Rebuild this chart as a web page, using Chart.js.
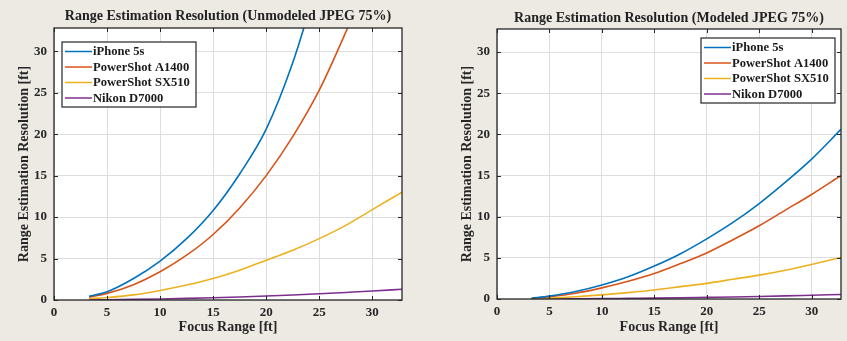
<!DOCTYPE html>
<html>
<head>
<meta charset="utf-8">
<script src="https://cdn.jsdelivr.net/npm/chart.js@4.4.1/dist/chart.umd.min.js"></script>
<style>
  body { margin: 0; background: #edeae4; width: 847px; height: 341px; overflow: hidden; }
  canvas { position: absolute; top: 0; }
  #left { left: 0; }
  #right { left: 423px; }
</style>
</head>
<body>
<canvas id="left" width="423" height="341"></canvas>
<canvas id="right" width="424" height="341"></canvas>
<script>
// focus range samples [ft]
const focusFt = [3.3, 5, 7.5, 10, 12.5, 15, 17.5, 20, 22.5, 25, 27.5, 30, 32.8];
const cameras = ["iPhone 5s", "PowerShot A1400", "PowerShot SX510", "Nikon D7000"];
const colors = ["#0072BD", "#D95319", "#EDB120", "#7E2F8E"];
const axisTicks = [0, 5, 10, 15, 20, 25, 30];
const axisMax = 32.8;

// range estimation resolution [ft], unmodeled JPEG 75%
const unmodIphone = [0.45, 1.0, 2.6, 4.7, 7.4, 10.8, 15.2, 20.6, 28.6, 39, null, null, null];
const unmodA1400 = [0.35, 0.8, 1.85, 3.4, 5.4, 7.9, 11.1, 15.0, 19.7, 25.3, 32.3, 40, null];
const unmodSX510 = [0.15, 0.3, 0.62, 1.15, 1.8, 2.6, 3.6, 4.8, 6.0, 7.4, 9.0, 10.9, 13.0];
const unmodD7000 = [0.015, 0.03, 0.07, 0.12, 0.19, 0.27, 0.37, 0.48, 0.61, 0.75, 0.91, 1.08, 1.3];

// range estimation resolution [ft], modeled JPEG 75%
const modIphone = [0.1, 0.35, 0.9, 1.7, 2.7, 4.0, 5.5, 7.3, 9.3, 11.6, 14.2, 17.0, 20.6];
const modA1400 = [0.08, 0.28, 0.7, 1.35, 2.15, 3.1, 4.3, 5.6, 7.2, 8.9, 10.8, 12.7, 15.0];
const modSX510 = [0.04, 0.11, 0.27, 0.5, 0.78, 1.1, 1.5, 1.9, 2.4, 2.9, 3.5, 4.2, 5.05];
const modD7000 = [0.005, 0.012, 0.03, 0.05, 0.08, 0.11, 0.15, 0.2, 0.25, 0.31, 0.38, 0.46, 0.55];

const serif = '"Liberation Serif", "Times New Roman", serif';

// white plot area, black box, inside ticks, title, boxed legend
const matlabAxes = {
  id: "matlabAxes",
  beforeDraw(chart) {
    const { ctx, chartArea: a } = chart;
    ctx.save();
    ctx.fillStyle = "#ffffff";
    ctx.fillRect(a.left, a.top, a.width, a.height);
    ctx.restore();
  },
  afterDraw(chart, args, opts) {
    const { ctx, chartArea: a, scales: { x, y } } = chart;
    ctx.save();
    ctx.strokeStyle = "#262626";
    ctx.lineWidth = 1;
    // inside tick marks
    ctx.beginPath();
    axisTicks.forEach((v) => {
      const px = Math.round(x.getPixelForValue(v)) + 0.5;
      ctx.moveTo(px, a.bottom); ctx.lineTo(px, a.bottom - 4);
      ctx.moveTo(px, a.top); ctx.lineTo(px, a.top + 4);
      const py = Math.round(y.getPixelForValue(v)) + 0.5;
      ctx.moveTo(a.left, py); ctx.lineTo(a.left + 4, py);
      ctx.moveTo(a.right, py); ctx.lineTo(a.right - 4, py);
    });
    ctx.stroke();
    ctx.lineWidth = 1.3;
    ctx.strokeRect(a.left, a.top, a.width, a.height);

    // title
    ctx.fillStyle = "#222";
    ctx.font = "bold 14px " + serif;
    ctx.textAlign = "center";
    ctx.textBaseline = "middle";
    ctx.fillText(opts.text, (a.left + a.right) / 2, opts.titleY);

    // legend
    const lx = opts.corner === "left" ? a.left + 8 : a.right - 6 - 134;
    const ly = a.top + opts.legendTop;
    ctx.fillStyle = "#ffffff";
    ctx.fillRect(lx, ly, 134, 65);
    ctx.lineWidth = 1.2;
    ctx.strokeStyle = "#262626";
    ctx.strokeRect(lx, ly, 134, 65);
    ctx.font = "bold 12.6px " + serif;
    ctx.textAlign = "left";
    chart.data.datasets.forEach((ds, i) => {
      const cy = ly + 9.5 + i * 15.5;
      ctx.strokeStyle = ds.borderColor;
      ctx.lineWidth = 1.5;
      ctx.beginPath();
      ctx.moveTo(lx + 3, cy); ctx.lineTo(lx + 30, cy);
      ctx.stroke();
      ctx.fillStyle = "#1a1a1a";
      ctx.fillText(ds.label, lx + 31, cy + 0.5);
    });
    ctx.restore();
  },
};

function makeChart(id, series, opts) {
  const datasets = series.map((vals, i) => ({
    label: cameras[i],
    data: focusFt.map((f, j) => ({ x: f, y: vals[j] })),
    borderColor: colors[i],
    borderWidth: 1.6,
    pointRadius: 0,
    cubicInterpolationMode: "monotone",
    fill: false,
  }));
  const tickFont = { family: serif, size: 13, weight: "bold" };
  const titleFont = { family: serif, size: 14, weight: "bold" };
  return new Chart(document.getElementById(id), {
    type: "line",
    data: { datasets },
    options: {
      responsive: false,
      animation: false,
      layout: { padding: { left: opts.padLeft, right: opts.padRight, top: opts.padTop, bottom: 0 } },
      plugins: {
        legend: { display: false },
        tooltip: { enabled: false },
        matlabAxes: opts,
      },
      scales: {
        x: {
          type: "linear",
          min: 0,
          max: axisMax,
          afterBuildTicks: (s) => { s.ticks = axisTicks.map((v) => ({ value: v })); },
          afterFit: (s) => { s.height = opts.xHeight; },
          grid: { color: "#dedede", drawTicks: false },
          border: { display: false },
          ticks: { color: "#262626", font: tickFont, padding: 5, maxRotation: 0 },
          title: { display: true, text: "Focus Range [ft]", color: "#262626", font: titleFont, padding: { top: 4, bottom: 5 } },
        },
        y: {
          type: "linear",
          min: 0,
          max: axisMax,
          afterBuildTicks: (s) => { s.ticks = axisTicks.map((v) => ({ value: v })); },
          afterFit: (s) => { s.width = 54; },
          grid: { color: "#dedede", drawTicks: false },
          border: { display: false },
          ticks: { color: "#262626", font: tickFont, padding: 7 },
          title: { display: true, text: "Range Estimation Resolution [ft]", color: "#262626", font: titleFont, padding: { top: 16, bottom: 0 } },
        },
      },
    },
    plugins: [matlabAxes],
  });
}

makeChart("left", [unmodIphone, unmodA1400, unmodSX510, unmodD7000], {
  text: "Range Estimation Resolution (Unmodeled JPEG 75%)",
  padLeft: 0, padRight: 21, padTop: 28, xHeight: 41,
  titleY: 16, corner: "left", legendTop: 14,
});
makeChart("right", [modIphone, modA1400, modSX510, modD7000], {
  text: "Range Estimation Resolution (Modeled JPEG 75%)",
  padLeft: 20, padRight: 6, padTop: 29, xHeight: 42,
  titleY: 18, corner: "right", legendTop: 9,
});
</script>
</body>
</html>
